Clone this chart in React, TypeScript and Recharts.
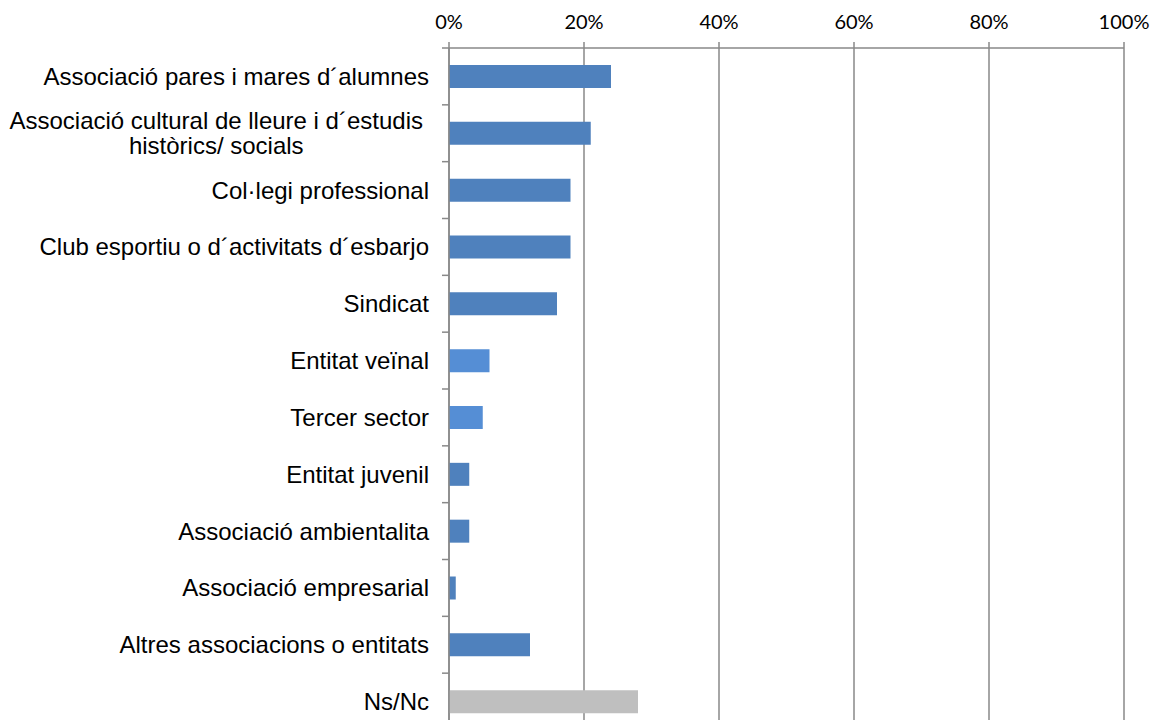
import React from 'react';
import { BarChart, Bar, XAxis, YAxis, CartesianGrid, Cell } from 'recharts';

const categories = [
    'Associació pares i mares d´alumnes',
    'Associació cultural de lleure i d´estudis\nhistòrics/ socials',
    'Col·legi professional',
    'Club esportiu o d´activitats d´esbarjo',
    'Sindicat',
    'Entitat veïnal',
    'Tercer sector',
    'Entitat juvenil',
    'Associació ambientalita',
    'Associació empresarial',
    'Altres associacions o entitats',
    'Ns/Nc',
];
const values = [24, 21, 18, 18, 16, 6, 5, 3, 3, 1, 12, 28];
const barColors = [
    '#4F81BD', '#4F81BD', '#4F81BD', '#4F81BD', '#4F81BD', '#558ED5',
    '#558ED5', '#4F81BD', '#4F81BD', '#4F81BD', '#4F81BD', '#BFBFBF',
];
const xTicks = [0, 20, 40, 60, 80, 100];

const WIDTH = 1154;
const HEIGHT = 740;
const MARGIN = { top: 0, right: 38, bottom: 18, left: 0 };
const X_AXIS_HEIGHT = 40;
const AXIS_COLOR = '#898989';
const LABEL_FONT = '"Liberation Sans", Arial, sans-serif';
const LABEL_SIZE = 24;

const data = categories.map((name, i) => ({ name, value: values[i] }));

// band height of one category, used to put the tick marks between bars like Excel does
const band = (HEIGHT - MARGIN.top - MARGIN.bottom - X_AXIS_HEIGHT) / categories.length;

let ctx: CanvasRenderingContext2D | null = null;
const measure = (text: string) => {
    if (!ctx) ctx = document.createElement('canvas').getContext('2d');
    if (!ctx) return text.length * 11;
    ctx.font = `${LABEL_SIZE}px "Liberation Sans"`;
    return ctx.measureText(text).width;
};

const CategoryTick = (props: any) => {
    const { x, y, payload, index } = props;
    const lines = String(payload.value).split('\n');
    const last = index === categories.length - 1;

    let label;
    if (lines.length === 1) {
        label = (
            <text x={x - 20} y={y} dy="0.355em" textAnchor="end" fontSize={LABEL_SIZE} fontFamily={LABEL_FONT} fill="#000">
                {lines[0]}
            </text>
        );
    } else {
        // wrapped label: lines centred on each other, the block sits a bit further left
        const center = x - 26 - measure(lines[0]) / 2;
        label = (
            <g>
                {lines.map((line, i) => (
                    <text
                        key={i}
                        x={center}
                        y={y + (i - (lines.length - 1) / 2) * 25}
                        dy="0.355em"
                        textAnchor="middle"
                        fontSize={LABEL_SIZE}
                        fontFamily={LABEL_FONT}
                        fill="#000"
                    >
                        {line}
                    </text>
                ))}
            </g>
        );
    }

    return (
        <g>
            <line x1={x - 7} x2={x} y1={y - band / 2} y2={y - band / 2} stroke={AXIS_COLOR} strokeWidth={1.5} />
            {last && <line x1={x - 7} x2={x} y1={y + band / 2} y2={y + band / 2} stroke={AXIS_COLOR} strokeWidth={1.5} />}
            {label}
        </g>
    );
};

const App = () => {
    return (
        <div style={{ width: WIDTH, height: 712, overflow: 'hidden' }}>
            <BarChart width={WIDTH} height={HEIGHT} data={data} layout="vertical" margin={MARGIN}>
                <CartesianGrid horizontal={false} stroke={AXIS_COLOR} strokeWidth={1.5} />
                <XAxis
                    type="number"
                    orientation="top"
                    domain={[0, 100]}
                    ticks={xTicks}
                    interval={0}
                    height={X_AXIS_HEIGHT}
                    tickFormatter={(v) => `${v}%`}
                    axisLine={{ stroke: AXIS_COLOR, strokeWidth: 1.5 }}
                    tickLine={{ stroke: AXIS_COLOR, strokeWidth: 1.5 }}
                    tickSize={6}
                    tickMargin={13}
                    tick={{ fontSize: 20, fontFamily: 'Lato, sans-serif', fill: '#000' }}
                />
                <YAxis
                    type="category"
                    dataKey="name"
                    width={441}
                    interval={0}
                    axisLine={{ stroke: AXIS_COLOR, strokeWidth: 1.5 }}
                    tickLine={false}
                    tickSize={0}
                    tickMargin={0}
                    tick={<CategoryTick />}
                />
                <Bar dataKey="value" barSize={23} isAnimationActive={false}>
                    {data.map((d, i) => (
                        <Cell key={d.name} fill={barColors[i]} />
                    ))}
                </Bar>
            </BarChart>
        </div>
    );
};

export default App;
